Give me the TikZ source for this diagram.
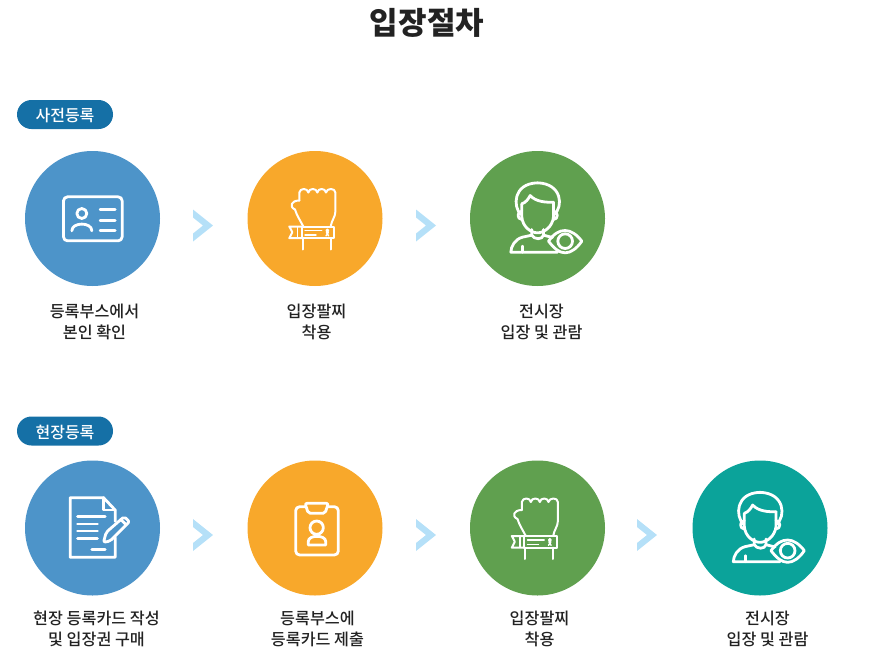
\documentclass[tikz,border=0pt]{standalone}
\usepackage{fontspec}
\setmainfont{Noto Sans CJK KR}
\newfontfamily\krmed{Noto Sans CJK KR Medium}
\definecolor{cblue}{HTML}{4D94C9}
\definecolor{corange}{HTML}{F8A82B}
\definecolor{cgreen}{HTML}{60A04F}
\definecolor{cteal}{HTML}{0BA39A}
\definecolor{cpill}{HTML}{1570A6}
\definecolor{cchev}{HTML}{B5E0F8}
\definecolor{cink}{HTML}{222222}
\newcommand{\lowered}[1]{\raisebox{-1pt}[\height][\depth]{#1}}
\tikzset{
  x=1pt,y=-1pt,
  disc/.style={circle,minimum size=135pt,inner sep=0pt,draw=none},
  pill/.style={rounded corners=14.5pt,fill=cpill,minimum width=96pt,minimum height=29pt,inner sep=0pt,text=white,font=\krmed\fontsize{16}{18}\selectfont},
  caption/.style={align=center,text=cink,inner sep=0pt,font=\krmed\fontsize{16.2}{21}\selectfont},
  ink/.style={draw=white,line width=2.8pt,line cap=round,line join=round,fill=none},
  thin ink/.style={draw=white,line width=2pt,line cap=round,line join=round,fill=none},
  fine ink/.style={draw=white,line width=1.4pt,line cap=round,line join=round,fill=none},
  pics/chevron/.style={code={\fill[cchev] (-10,-16) -- (10,0) -- (-10,16) -- (-10,8) -- (0,0) -- (-10,-8) -- cycle;}},
  pics/idcard/.style={code={\begin{scope}[scale=0.3333]
    \draw[ink,rounded corners=4pt] (-87,-65) rectangle (89,67);
    \draw[ink] (-32,-15) circle (15);
    \draw[ink] (-62,37) .. controls (-62,10) and (-2,10) .. (-2,37);
    \draw[ink] (23,-27) -- (68,-27) (23,5) -- (68,5) (23,35) -- (68,35);
  \end{scope}}},
  pics/wristband/.style={code={\begin{scope}[scale=0.3333]
    \draw[thin ink] (-35,24) .. controls (-45,5) and (-55,-10) .. (-60,-27) .. controls (-78,-35) and (-72,-54) .. (-47,-54);
    \draw[thin ink] (-47,-54) -- (-47,-78) .. controls (-45,-92) and (-22,-92) .. (-20,-78) .. controls (-18,-92) and (5,-92) .. (7,-78) .. controls (9,-92) and (31,-92) .. (33,-78) .. controls (35,-92) and (61,-92) .. (61,-78) -- (61,-20) .. controls (61,-5) and (50,5) .. (47,24);
    \draw[thin ink] (-40,24) -- (57,24) -- (57,59) -- (-40,59) -- cycle;
    \draw[thin ink] (-40,24) -- (-77,24) -- (-68,41) -- (-77,59) -- (-40,59);
    \draw[fine ink] (-53,27) -- (-53,56);
    \draw[fine ink] (-30,36) -- (20,36) (-30,49) -- (3,49);
    \draw[fine ink] (37,36) circle (4) (34,42) -- (41,52) (40,42) -- (33,52);
    \draw[thin ink] (-37,59) -- (-37,93) (47,59) -- (47,93);
  \end{scope}}},
  pics/visitor/.style={code={\begin{scope}[scale=0.3333]
    \draw[ink] (-50,-12) .. controls (-74,-35) and (-74,-105) .. (0,-107) .. controls (74,-105) and (78,-35) .. (50,-12);
    \draw[ink] (-47,-44) .. controls (-35,-48) and (-28,-58) .. (-22,-69) .. controls (-5,-50) and (25,-48) .. (48,-49);
    \draw[ink] (-47,-44) -- (-47,-5) .. controls (-45,25) and (-20,43) .. (0,43) .. controls (20,43) and (45,25) .. (48,-5) -- (48,-49);
    \draw[ink] (-47,-22) .. controls (-62,-22) and (-62,3) .. (-47,3);
    \draw[ink] (48,-22) .. controls (63,-22) and (63,3) .. (48,3);
    \draw[ink] (-17,33) -- (-17,50) .. controls (-10,64) and (15,64) .. (18,50) -- (18,33);
    \draw[ink] (-17,50) -- (-45,56) .. controls (-68,62) and (-80,85) .. (-80,101) -- (60,101);
    \draw[ink] (18,50) -- (45,57);
    \draw[ink] (-44,83) -- (-44,101);
    \draw[ink] (33,68) .. controls (50,45) and (65,36) .. (83,36) .. controls (100,36) and (118,48) .. (133,68) .. controls (118,90) and (100,103) .. (83,103) .. controls (65,103) and (50,90) .. (33,68) -- cycle;
    \draw[ink] (83,68) circle (22);
  \end{scope}}},
  pics/document/.style={code={\begin{scope}[scale=0.3333]
    \draw[ink] (68,-20) -- (68,-54) -- (33,-91) -- (-67,-91) -- (-67,88) -- (68,88) -- (68,28);
    \draw[ink] (33,-91) -- (33,-54) -- (68,-54);
    \draw[ink] (-45,-34) -- (38,-34) (-45,-12) -- (15,-12) (-45,9) -- (15,9) (-45,31) -- (15,31) (-2,64) -- (38,64);
    \draw[ink,rounded corners=2pt] (33,43) -- (41,13) -- (95,-34) -- (111,-19) -- (53,39) -- cycle;
    \draw[ink] (85,-25) -- (101,-10);
  \end{scope}}},
  pics/clipboard/.style={code={\begin{scope}[scale=0.3333]
    \draw[ink,rounded corners=4pt] (-30,-64) -- (-58,-64) -- (-58,81) -- (70,81) -- (70,-64) -- (40,-64);
    \draw[ink,rounded corners=2pt] (-30,-74) -- (40,-74) -- (30,-44) -- (-20,-44) -- cycle;
    \draw[ink] (5,-1) circle (20);
    \draw[ink] (-20,51) -- (-20,40) .. controls (-20,20) and (32,20) .. (32,40) -- (32,51) -- cycle;
  \end{scope}}},
}
\begin{document}
\begin{tikzpicture}
\useasboundingbox (0,0) rectangle (875,664);
\node[text=cink,inner sep=0pt,font=\bfseries\fontsize{31}{36}\selectfont] (title) at (427,23) {입장절차};

\node[pill] (p1) at (65,114.5) {\lowered{사전등록}};
\node[disc,fill=cblue] (a1) at (92.5,218.5) {};
\node[disc,fill=corange] (a2) at (315,218.5) {};
\node[disc,fill=cgreen] (a3) at (537.5,218.5) {};
\pic at (a1) {idcard};
\pic at (a2) {wristband};
\pic at (a3) {visitor};
\pic at (203,225.5) {chevron};
\pic at (426,225.5) {chevron};
\node[caption] (ta1) at (94.5,321.5) {등록부스에서\\본인 확인};
\node[caption] (ta2) at (316.5,321.5) {입장팔찌\\착용};
\node[caption] (ta3) at (541.5,321.5) {전시장\\입장 및 관람};

\node[pill] (p2) at (65,431) {\lowered{현장등록}};
\node[disc,fill=cblue] (b1) at (92.5,528) {};
\node[disc,fill=corange] (b2) at (315,528) {};
\node[disc,fill=cgreen] (b3) at (537.5,528) {};
\node[disc,fill=cteal] (b4) at (760,528) {};
\pic at (b1) {document};
\pic at (b2) {clipboard};
\pic at (b3) {wristband};
\pic at (b4) {visitor};
\pic at (203,535) {chevron};
\pic at (426,535) {chevron};
\pic at (647,535) {chevron};
\node[caption] (tb1) at (96.5,628.5) {현장 등록카드 작성\\및 입장권 구매};
\node[caption] (tb2) at (317.5,628.5) {등록부스에\\등록카드 제출};
\node[caption] (tb3) at (539.5,628.5) {입장팔찌\\착용};
\node[caption] (tb4) at (767.5,628.5) {전시장\\입장 및 관람};
\end{tikzpicture}
\end{document}
